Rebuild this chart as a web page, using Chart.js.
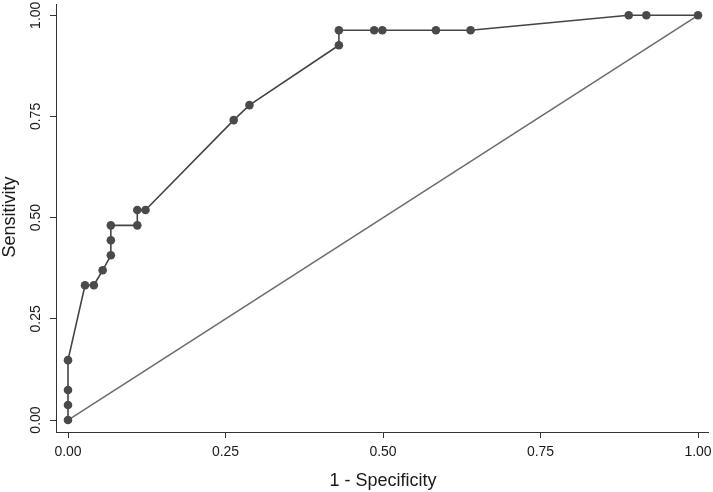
<!DOCTYPE html>
<html>
<head>
<meta charset="utf-8">
<script src="https://cdn.jsdelivr.net/npm/chart.js@4.4.0/dist/chart.umd.min.js"></script>
<style>
  html, body { margin: 0; padding: 0; background: #fff; }
  #wrap { width: 713px; height: 492px; position: relative; }
</style>
</head>
<body>
<div id="wrap"><canvas id="roc"></canvas></div>
<script>
// ROC curve values
const fpr = [0, 0, 0, 0, 0.027, 0.041, 0.055, 0.068, 0.068, 0.068, 0.110, 0.110, 0.123,
             0.263, 0.288, 0.430, 0.430, 0.486, 0.499, 0.584, 0.639, 0.890, 0.918, 1.0];
const tpr = [0, 0.037, 0.074, 0.148, 0.333, 0.333, 0.370, 0.407, 0.444, 0.481, 0.481, 0.519, 0.519,
             0.741, 0.778, 0.926, 0.963, 0.963, 0.963, 0.963, 0.963, 1.0, 1.0, 1.0];
const refX = [0, 1];
const refY = [0, 1];
const xTicks = [0, 0.25, 0.5, 0.75, 1];
const yTicks = [0, 0.25, 0.5, 0.75, 1];
const xTitle = '1 - Specificity';
const yTitle = 'Sensitivity';

const FONT = '"Liberation Sans", Arial, sans-serif';
const axisColor = '#333';

// draw the labels ourselves (y tick labels are rotated in the original)
const labelPlugin = {
  id: 'labels',
  afterDraw(chart) {
    const { ctx, scales } = chart;
    ctx.save();
    ctx.fillStyle = '#1a1a1a';
    ctx.textAlign = 'center';
    ctx.textBaseline = 'middle';
    ctx.font = '14px ' + FONT;
    xTicks.forEach(v => {
      ctx.fillText(v.toFixed(2), scales.x.getPixelForValue(v), 452);
    });
    yTicks.forEach(v => {
      ctx.save();
      ctx.translate(36, scales.y.getPixelForValue(v));
      ctx.rotate(-Math.PI / 2);
      ctx.fillText(v.toFixed(2), 0, 0);
      ctx.restore();
    });
    ctx.font = '18px ' + FONT;
    ctx.fillText(xTitle, 383, 481);
    ctx.save();
    ctx.translate(10, 217);
    ctx.rotate(-Math.PI / 2);
    ctx.fillText(yTitle, 0, 0);
    ctx.restore();
    ctx.restore();
  }
};

new Chart(document.getElementById('roc'), {
  type: 'scatter',
  data: {
    datasets: [
      {
        label: 'ROC',
        data: fpr.map((x, i) => ({ x: x, y: tpr[i] })),
        showLine: true,
        borderColor: '#444',
        borderWidth: 1.6,
        backgroundColor: '#4a4a4a',
        pointBackgroundColor: '#4a4a4a',
        pointBorderWidth: 0,
        pointRadius: 4.3,
        order: 0
      },
      {
        label: 'Reference',
        data: refX.map((x, i) => ({ x: x, y: refY[i] })),
        showLine: true,
        borderColor: '#6b6b6b',
        borderWidth: 1.5,
        pointRadius: 0,
        order: 1
      }
    ]
  },
  options: {
    responsive: true,
    maintainAspectRatio: false,
    animation: false,
    layout: { padding: { top: 3, right: 5, left: 0, bottom: 0 } },
    plugins: {
      legend: { display: false },
      tooltip: { enabled: false }
    },
    scales: {
      x: {
        type: 'linear',
        min: -0.01905,
        max: 1.01587,
        afterBuildTicks: s => { s.ticks = xTicks.map(v => ({ value: v })); },
        afterFit: s => { s.height = 60; },
        grid: { drawOnChartArea: false, drawTicks: true, tickLength: 6, color: axisColor },
        border: { display: true, color: axisColor, width: 1 },
        ticks: { display: false }
      },
      y: {
        type: 'linear',
        min: -0.02956,
        max: 1.02709,
        afterBuildTicks: s => { s.ticks = yTicks.map(v => ({ value: v })); },
        afterFit: s => { s.width = 56; },
        grid: { drawOnChartArea: false, drawTicks: true, tickLength: 6, color: axisColor },
        border: { display: true, color: axisColor, width: 1 },
        ticks: { display: false }
      }
    }
  },
  plugins: [labelPlugin]
});
</script>
</body>
</html>
